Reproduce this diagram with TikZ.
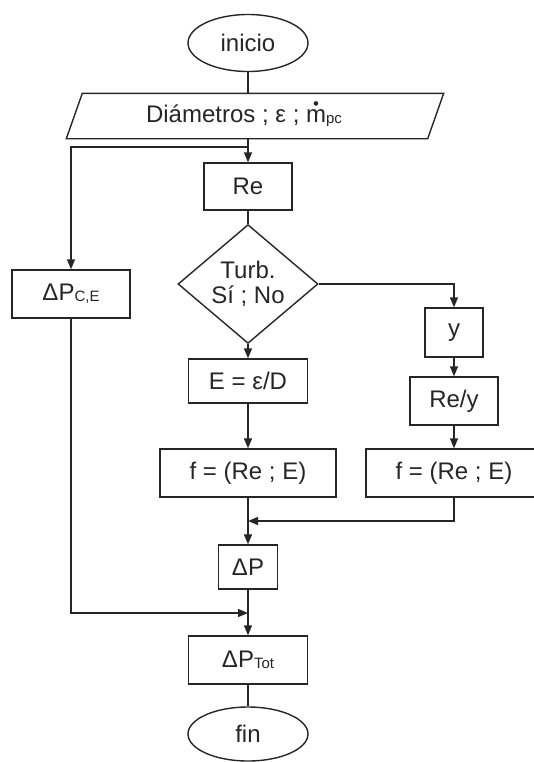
\documentclass[tikz,border=0pt]{standalone}
\usepackage{fontspec}
\setmainfont{Liberation Sans}
\usepackage{tikz}
\usetikzlibrary{positioning,arrows.meta,shapes.geometric}

\newcommand{\smallsub}[1]{\raisebox{-0.6pt}{\fontsize{7.5}{8}\selectfont #1}}
\newcommand{\mdot}{\ooalign{m\cr\hidewidth\raisebox{0.55em}{\scalebox{0.7}{\textbullet}}\hidewidth\cr}}

\begin{document}
\begin{tikzpicture}[x=0.5pt, y=-0.5pt, color=black!85, line width=0.7pt,
    font=\fontsize{12}{12.5}\selectfont,
    caja/.style={draw, rectangle, inner sep=0pt},
    termino/.style={draw, ellipse, inner sep=0pt, minimum width=60pt, minimum height=28.5pt},
    flecha/.style={-{Triangle[length=5pt,width=4pt]}}]
\useasboundingbox (0,0) rectangle (534,762);

\node[termino] (inicio) at (248,43) {inicio};
\node[rectangle, minimum width=188pt, minimum height=22pt, inner sep=0pt] (datos) at (255,116) {};
\draw ([xshift=8pt]datos.north west) -- (datos.north east)
   -- ([xshift=-8pt]datos.south east) -- (datos.south west) -- cycle;
\node (datostxt) at (244,116) {Diámetros ; ε ; \mdot\smallsub{pc}};

\node[caja, minimum width=44pt, minimum height=23.5pt] (re) at (248,186.5) {Re};
\node[caja, minimum width=59pt, minimum height=24pt] (dpce) at (71,294) {ΔP\smallsub{C,E}};
\node[draw, diamond, minimum width=70pt, minimum height=50pt, inner sep=0pt, align=center] (turb) at (248,284) {Turb.\\Sí ; No};
\node[caja, minimum width=29pt, minimum height=24.5pt] (y) at (454,332.5) {y};
\node[caja, minimum width=59.5pt, minimum height=22pt] (rug) at (248,381) {E = ε/D};
\node[caja, minimum width=44pt, minimum height=24pt] (rey) at (454,401) {Re/y};
\node[caja, minimum width=88pt, minimum height=24pt] (fizq) at (248,473) {f = (Re ; E)};
\node[caja, minimum width=88pt, minimum height=24pt] (fder) at (454,473) {f = (Re ; E)};
\node[caja, minimum width=29.5pt, minimum height=22pt] (dp) at (248,567) {ΔP};
\node[caja, minimum width=59.5pt, minimum height=24pt] (dptot) at (248,660) {ΔP\smallsub{Tot}};
\node[termino, minimum height=27pt] (fin) at (248,734) {fin};

\coordinate (j1) at (248,147);
\coordinate (j2) at (248,521);
\coordinate (j3) at (248,613);

\draw (inicio.south) -- (inicio.south |- datos.north);
\draw[flecha] (re.north |- datos.south) -- (re.north);
\draw[flecha] (j1) -| (dpce.north);
\draw (re.south) -- (turb.north);
\draw[flecha] (turb.east) -| (y.north);
\draw[flecha] (turb.south) -- (rug.north);
\draw[flecha] (y.south) -- (rey.north);
\draw[flecha] (rug.south) -- (fizq.north);
\draw[flecha] (rey.south) -- (fder.north);
\draw[flecha] (fder.south) |- (j2);
\draw[flecha] (fizq.south) -- (dp.north);
\draw[flecha] (dpce.south) |- (j3);
\draw[flecha] (dp.south) -- (dptot.north);
\draw (dptot.south) -- (fin.north);

\end{tikzpicture}
\end{document}
